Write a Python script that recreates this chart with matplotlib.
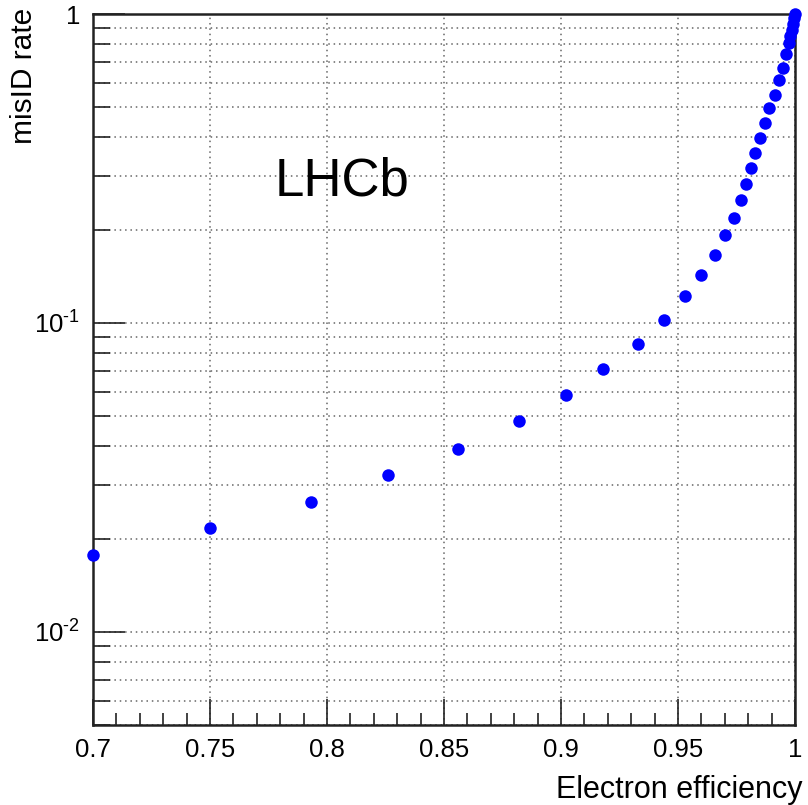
import matplotlib
matplotlib.use("Agg")
import matplotlib.pyplot as plt
from matplotlib.ticker import FixedLocator, FixedFormatter, LogLocator, NullFormatter, MultipleLocator

plt.rcParams['font.family'] = ['Liberation Sans', 'DejaVu Sans']
plt.rcParams['mathtext.fontset'] = 'custom'
plt.rcParams['mathtext.rm'] = 'Liberation Sans'
plt.rcParams['mathtext.it'] = 'Liberation Sans:italic'
plt.rcParams['mathtext.bf'] = 'Liberation Sans:bold'
plt.rcParams['axes.unicode_minus'] = False

# Electron efficiency vs. misidentification rate
efficiency = [0.700, 0.750, 0.793, 0.826, 0.856, 0.882, 0.902, 0.918, 0.933,
              0.944, 0.953, 0.960, 0.966, 0.970, 0.974, 0.977, 0.979, 0.981,
              0.983, 0.985, 0.987, 0.989, 0.9915, 0.993, 0.9947, 0.9963,
              0.9974, 0.998, 0.9986, 0.9991, 0.9996, 1.000]
misid_rate = [0.0178, 0.0217, 0.0264, 0.0322, 0.0391, 0.0482, 0.0585, 0.0710,
              0.0855, 0.102, 0.122, 0.143, 0.166, 0.192, 0.219, 0.250, 0.282,
              0.317, 0.355, 0.398, 0.444, 0.495, 0.548, 0.613, 0.669, 0.744,
              0.804, 0.850, 0.890, 0.930, 0.970, 1.000]

x_ticks = [0.7, 0.75, 0.8, 0.85, 0.9, 0.95, 1.0]
x_tick_labels = ["0.7", "0.75", "0.8", "0.85", "0.9", "0.95", "1"]
y_ticks = [0.01, 0.1, 1.0]
y_tick_labels = [r"10$^{\text{-2}}$", r"10$^{\text{-1}}$", "1"]

fig = plt.figure(figsize=(8.08, 8.05), dpi=100)
ax = fig.add_axes([93 / 808, 1 - 725 / 805, 702 / 808, 711 / 805])

ax.plot(efficiency, misid_rate, linestyle='none', marker='o', markersize=9,
        color='#0000ff', markeredgewidth=0, clip_on=False, zorder=5)

ax.set_yscale('log')
ax.set_xlim(0.7, 1.0)
ax.set_ylim(0.005, 1.0)

ax.xaxis.set_major_locator(FixedLocator(x_ticks))
ax.xaxis.set_major_formatter(FixedFormatter(x_tick_labels))
ax.xaxis.set_minor_locator(MultipleLocator(0.01))
ax.yaxis.set_major_locator(FixedLocator(y_ticks))
ax.yaxis.set_major_formatter(FixedFormatter(y_tick_labels))
ax.yaxis.set_minor_locator(LogLocator(base=10, subs=range(2, 10)))
ax.yaxis.set_minor_formatter(NullFormatter())

ax.tick_params(axis='both', which='both', direction='in', top=False, right=False,
               color='#222222', width=1.2)
ax.tick_params(axis='x', which='major', length=19, labelsize=18.5, pad=9)
ax.tick_params(axis='x', which='minor', length=9)
ax.tick_params(axis='y', which='major', length=23, labelsize=18.5, pad=9)
ax.tick_params(axis='y', which='minor', length=12)

for s in ax.spines.values():
    s.set_linewidth(1.8)
    s.set_color('#222222')

grid_style = dict(color='#666666', linestyle=(0, (1, 2.5)), linewidth=1.1)
ax.grid(True, which='both', axis='y', **grid_style)
ax.grid(True, which='major', axis='x', **grid_style)
ax.set_axisbelow(True)

ax.text(0.259, 0.745, "LHCb", transform=ax.transAxes, fontsize=38,
        ha='left', va='baseline', color='black')

fig.text(802 / 808, 1 - 798 / 805, "Electron efficiency", fontsize=22,
         ha='right', va='baseline')
fig.text(24 / 808, 1 - 8 / 805, "misID rate", fontsize=21.5, rotation=90,
         ha='center', va='top')

fig.savefig("out.png", dpi=100)
